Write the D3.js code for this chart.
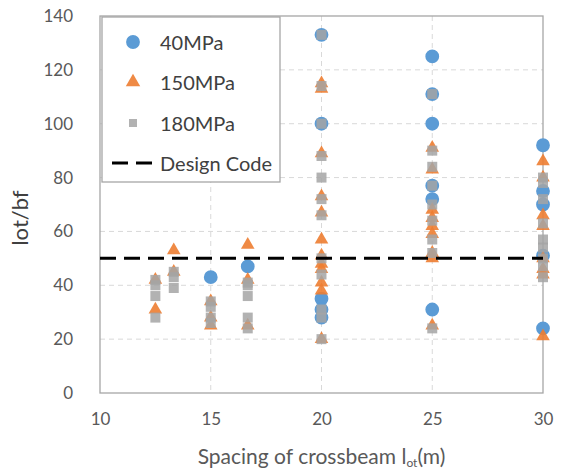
<!DOCTYPE html>
<html>
<head>
<meta charset="utf-8">
<script src="https://cdn.jsdelivr.net/npm/d3@7"></script>
<style>
  html, body { margin: 0; padding: 0; background: #fff; }
  svg { display: block; }
</style>
</head>
<body>
<div id="chart"></div>
<script>
// Slenderness lot/bf against crossbeam spacing, three steel grades + code limit.

const spacings = [12.5, 13.33, 15, 16.67, 20, 25, 30];

const mpa40 = [
  [], [], [43], [47],
  [133, 100, 35, 31, 28],
  [125, 111, 100, 77, 72, 31],
  [92, 75, 70, 51, 24],
];

const mpa150 = [
  [42, 31], [53, 45], [34, 28, 25], [55, 42, 25],
  [115, 113, 89, 73, 67, 57, 51, 48, 46, 41, 38, 20],
  [91, 83, 68, 65, 62, 59, 52, 50, 25],
  [86, 80, 66, 62, 50, 46, 44, 21],
];

const mpa180 = [
  [42, 40, 36, 28], [45, 43, 39], [34, 32, 28, 26], [41, 40, 36, 28, 24],
  [133, 114, 100, 88, 80, 72, 66, 50, 44, 31, 28, 20],
  [111, 90, 84, 77, 70, 64, 57, 52, 24],
  [80, 78, 72, 63, 57, 54, 50, 47, 43],
];

const designCode = 50;

const xTicks = [10, 15, 20, 25, 30];
const yTicks = [0, 20, 40, 60, 80, 100, 120, 140];

const legendLabels = ["40MPa", "150MPa", "180MPa", "Design Code"];

const FONT = "Lato, 'Open Sans', sans-serif";

const SERIES = [
  { name: legendLabels[0], values: mpa40,  shape: d3.symbolCircle,   size: 150, legendSize: 150, fill: "#5b9bd5", opacity: 1 },
  { name: legendLabels[1], values: mpa150, shape: d3.symbolTriangle, size: 80,  legendSize: 90,  fill: "#ed7d31", opacity: 0.9 },
  { name: legendLabels[2], values: mpa180, shape: d3.symbolSquare,   size: 100, legendSize: 64,  fill: "#a5a5a5", opacity: 0.85 },
];

function flatten(values) {
  const pts = [];
  values.forEach((col, i) => col.forEach(v => pts.push({ x: spacings[i], y: v })));
  return pts;
}

function draw() {
  const W = 562, H = 474;
  const m = { top: 16, right: 19, bottom: 81, left: 100 };
  const iw = W - m.left - m.right;
  const ih = H - m.top - m.bottom;

  const svg = d3.select("#chart")
    .append("svg")
      .attr("width",  W)
      .attr("height", H);

  const g = svg.append("g")
    .attr("transform", `translate(${m.left},${m.top})`);

  const xScale = d3.scaleLinear().domain([10, 30]).range([0, iw]);
  const yScale = d3.scaleLinear().domain([0, 140]).range([ih, 0]);

  drawGrid(g, xScale, yScale, iw, ih);
  drawAxes(g, xScale, yScale, iw, ih);
  drawPoints(g, xScale, yScale);
  drawDesignCode(g, xScale, yScale);
  drawTitles(svg, m, iw);
  drawLegend(svg);
}

function drawGrid(g, xScale, yScale, iw, ih) {
  g.selectAll(".grid-h")
    .data(yTicks.slice(1, -1))
    .join("line")
      .attr("class",            "grid-h")
      .attr("x1",               0)
      .attr("x2",               iw)
      .attr("y1",               d => yScale(d))
      .attr("y2",               d => yScale(d))
      .attr("stroke",           "#d9d9d9")
      .attr("stroke-width",     1)
      .attr("stroke-dasharray", "5,4");

  g.selectAll(".grid-v")
    .data(xTicks.slice(1, -1))
    .join("line")
      .attr("class",            "grid-v")
      .attr("x1",               d => xScale(d))
      .attr("x2",               d => xScale(d))
      .attr("y1",               0)
      .attr("y2",               ih)
      .attr("stroke",           "#d9d9d9")
      .attr("stroke-width",     1)
      .attr("stroke-dasharray", "5,4");

  g.append("rect")
    .attr("x",            0)
    .attr("y",            0)
    .attr("width",        iw)
    .attr("height",       ih)
    .attr("fill",         "none")
    .attr("stroke",       "#a6a6a6")
    .attr("stroke-width", 1.3);
}

function drawAxes(g, xScale, yScale, iw, ih) {
  const xAxisG = g.append("g")
    .attr("transform", `translate(0,${ih})`)
    .call(d3.axisBottom(xScale).tickValues(xTicks).tickSize(0).tickPadding(20));

  xAxisG.select(".domain").remove();
  xAxisG.selectAll("text")
    .attr("fill",        "#595959")
    .attr("font-size",   "17px")
    .attr("font-family", FONT);

  const yAxisG = g.append("g")
    .call(d3.axisLeft(yScale).tickValues(yTicks).tickSize(0).tickPadding(27));

  yAxisG.select(".domain").remove();
  yAxisG.selectAll("text")
    .attr("fill",        "#595959")
    .attr("font-size",   "17px")
    .attr("font-family", FONT);
}

function drawPoints(g, xScale, yScale) {
  SERIES.forEach(s => {
    const sym = d3.symbol().type(s.shape).size(s.size);
    g.append("g")
      .selectAll("path")
      .data(flatten(s.values))
      .join("path")
        .attr("d",         sym)
        .attr("transform", d => `translate(${xScale(d.x)},${yScale(d.y)})`)
        .attr("fill",      s.fill)
        .attr("opacity",   s.opacity);
  });
}

function drawDesignCode(g, xScale, yScale) {
  g.append("line")
    .attr("x1",               xScale(10))
    .attr("x2",               xScale(30))
    .attr("y1",               yScale(designCode))
    .attr("y2",               yScale(designCode))
    .attr("stroke",           "#000")
    .attr("stroke-width",     3)
    .attr("stroke-dasharray", "16,8");
}

function drawTitles(svg, m, iw) {
  const xt = svg.append("text")
    .attr("x",           m.left + iw / 2)
    .attr("y",           464)
    .attr("text-anchor", "middle")
    .attr("fill",        "#595959")
    .attr("font-size",   "21px")
    .attr("font-family", FONT);

  xt.append("tspan").text("Spacing of crossbeam l");
  xt.append("tspan").attr("font-size", "12px").attr("dy", 3).text("ot");
  xt.append("tspan").attr("dy", -3).text("(m)");

  svg.append("text")
    .attr("transform",   "translate(28,218) rotate(-90)")
    .attr("text-anchor", "middle")
    .attr("fill",        "#404040")
    .attr("font-size",   "22px")
    .attr("font-family", FONT)
    .text("lot/bf");
}

function drawLegend(svg) {
  const lg = svg.append("g");

  lg.append("rect")
    .attr("x",            102)
    .attr("y",            17)
    .attr("width",        178)
    .attr("height",       165)
    .attr("fill",         "#fff")
    .attr("stroke",       "#a6a6a6")
    .attr("stroke-width", 1.3);

  const rows = [42, 82, 123, 163];

  SERIES.forEach((s, i) => {
    lg.append("path")
      .attr("d",         d3.symbol().type(s.shape).size(s.legendSize)())
      .attr("transform", `translate(133,${rows[i]})`)
      .attr("fill",      s.fill)
      .attr("opacity",   s.opacity);
  });

  lg.append("line")
    .attr("x1",               112)
    .attr("x2",               157)
    .attr("y1",               rows[3])
    .attr("y2",               rows[3])
    .attr("stroke",           "#000")
    .attr("stroke-width",     3)
    .attr("stroke-dasharray", "16,8");

  lg.selectAll(".legend-label")
    .data(legendLabels)
    .join("text")
      .attr("class",             "legend-label")
      .attr("x",                 160)
      .attr("y",                 (d, i) => rows[i])
      .attr("dominant-baseline", "central")
      .attr("fill",              "#404040")
      .attr("font-size",         "20px")
      .attr("font-family",       FONT)
      .text(d => d);
}

draw();
</script>
</body>
</html>
